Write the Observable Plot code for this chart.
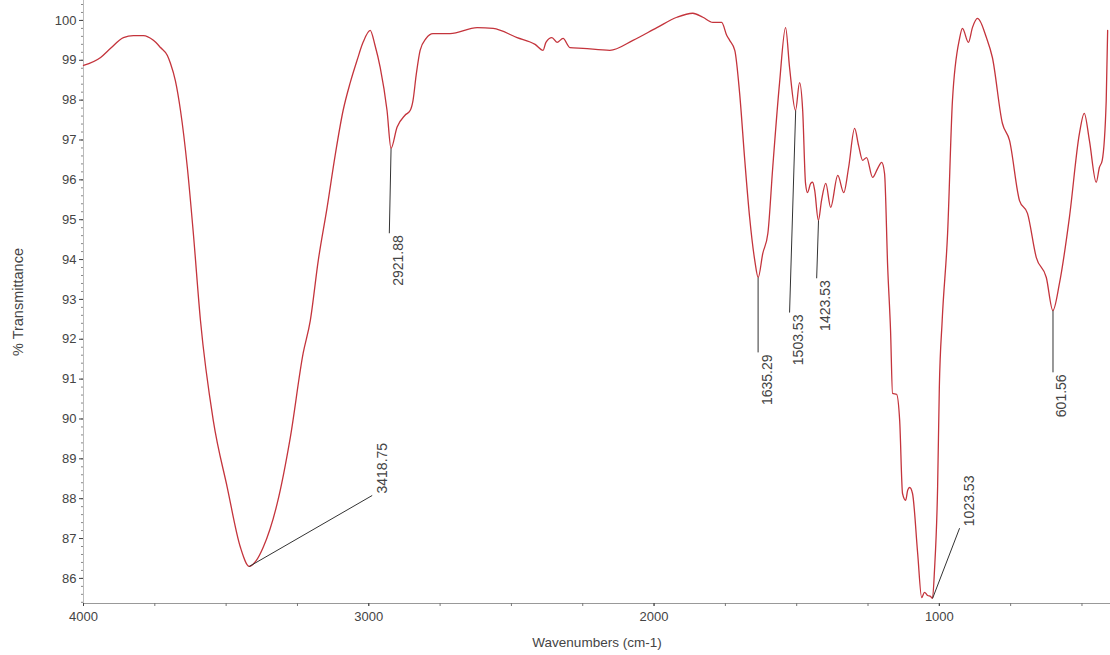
<!DOCTYPE html>
<html>
<head>
<meta charset="utf-8">
<script src="https://cdn.jsdelivr.net/npm/d3@7"></script>
<script src="https://cdn.jsdelivr.net/npm/@observablehq/plot@0.6"></script>
<style>
  html, body { margin: 0; padding: 0; background: #fff; }
  #chart svg { display: block; }
</style>
</head>
<body>
<div id="chart"></div>
<script>
// FT-IR spectrum: wavenumber (cm-1) against % transmittance
const wavenumber = [
  4000, 3940, 3905, 3860, 3825, 3790, 3755, 3730, 3706, 3695, 3678, 3660, 3636, 3615, 3590,
  3545, 3496, 3450, 3419, 3394, 3370, 3321, 3275, 3230, 3205, 3177, 3146, 3118, 3090, 3065,
  3041, 3020, 2995, 2978, 2960, 2936, 2922, 2901, 2873, 2855, 2845, 2834, 2820, 2799, 2775,
  2715, 2620, 2564, 2480, 2417, 2389, 2379, 2358, 2340, 2319, 2295, 2249, 2155, 2074, 1990,
  1920, 1864, 1829, 1794, 1763, 1745, 1735, 1717, 1700, 1682, 1665, 1647, 1635, 1619, 1601,
  1584, 1560, 1539, 1525, 1504, 1490, 1479, 1469, 1462, 1451, 1444, 1437, 1424, 1413, 1398,
  1381, 1356, 1335, 1318, 1297, 1283, 1269, 1255, 1234, 1216, 1202, 1192, 1181, 1171, 1164,
  1150, 1139, 1129, 1118, 1111, 1104, 1094, 1076, 1062, 1052, 1041, 1031, 1024, 1017, 1006,
  1000, 990, 971, 954, 929, 919, 898, 884, 866, 835, 814, 779, 754, 719, 691,
  660, 625, 602, 579, 544, 509, 492, 474, 450, 439, 429, 415, 410
];
const transmittance = [
  98.87, 99.07, 99.30, 99.57, 99.62, 99.62, 99.50, 99.32, 99.12, 98.92, 98.49, 97.74, 96.31, 94.66, 92.47,
  89.96, 88.28, 86.78, 86.30, 86.45, 86.78, 87.88, 89.54, 91.65, 92.47, 93.98, 95.31, 96.61, 97.74, 98.44,
  99.00, 99.45, 99.75, 99.37, 98.82, 97.74, 96.79, 97.32, 97.62, 97.74, 97.99, 98.62, 99.25, 99.55, 99.67,
  99.67, 99.82, 99.80, 99.57, 99.40, 99.25, 99.45, 99.57, 99.45, 99.55, 99.32, 99.30, 99.25, 99.50, 99.82,
  100.08, 100.18, 100.08, 99.95, 99.95, 99.62, 99.50, 99.25, 98.17, 96.49, 95.06, 93.98, 93.55, 94.15, 94.66,
  96.31, 98.44, 99.82, 98.82, 97.74, 98.44, 97.74, 95.91, 95.68, 95.91, 95.94, 95.74, 94.98, 95.48, 95.91,
  95.31, 96.11, 95.68, 96.31, 97.29, 96.86, 96.49, 96.56, 96.06, 96.29, 96.44, 96.16, 93.80, 92.22, 90.64,
  90.62, 89.96, 88.13, 87.96, 88.21, 88.28, 88.13, 86.63, 85.52, 85.65, 85.57, 85.55, 85.50, 86.20, 88.30,
  90.79, 92.47, 94.66, 97.99, 99.55, 99.80, 99.45, 99.82, 100.05, 99.57, 99.07, 97.42, 96.99, 95.48, 95.16,
  94.05, 93.55, 92.72, 93.40, 95.06, 97.16, 97.67, 96.99, 95.94, 96.31, 96.49, 97.99, 99.75
];

// Labelled absorption bands: band minimum and the end of its leader line
const peakWavenumber = [3418.75, 2921.88, 1635.29, 1503.53, 1423.53, 1023.53, 601.56];
const peakTransmittance = [86.30, 96.79, 93.55, 97.74, 94.98, 85.50, 92.72];
const leaderWavenumber = [2988, 2928, 1635.29, 1525, 1430, 929, 601.56];
const leaderTransmittance = [88.08, 94.66, 91.67, 92.67, 93.53, 87.26, 91.17];

const xTickLabels = [4000, 3000, 2000, 1000];
const xMinorTicks = d3.range(4000, 399, -250);
const yTickLabels = d3.range(86, 100.5, 1);
const yMinorTicks = d3.range(85.4, 100.45, 0.2);

const yDomain = [85.37, 100.5];

const spectrum = wavenumber.map((w, i) => ({w, t: transmittance[i]}));
const peaks = peakWavenumber.map((w, i) => ({
  w, t: peakTransmittance[i],
  lw: leaderWavenumber[i], lt: leaderTransmittance[i],
  label: w.toFixed(2),
  slanted: Math.abs(leaderWavenumber[i] - w) > 30
}));

const font = "'Liberation Sans', Arial, sans-serif";
const ink = "#444";

const chart = Plot.plot({
  width: 1110,
  height: 655,
  marginLeft: 83,
  marginRight: 0,
  marginTop: 0,
  marginBottom: 52,
  style: {fontFamily: font, fontSize: "13px", color: ink, background: "#fff"},
  x: {domain: [4000, 400]},
  y: {domain: yDomain},
  marks: [
    // axis lines
    Plot.ruleY([yDomain[0]], {stroke: "#999", strokeWidth: 1}),
    Plot.ruleX([4000], {stroke: "#bbb", strokeWidth: 1}),
    // minor ticks
    Plot.axisX({ticks: xMinorTicks, tickSize: 3, text: null, stroke: "#777"}),
    Plot.axisY({ticks: yMinorTicks, tickSize: 2, text: null, stroke: "#888"}),
    // major ticks and labels
    Plot.axisX({ticks: xTickLabels, tickSize: 3, tickPadding: 5, label: null, tickFormat: d => String(d), fill: ink}),
    Plot.axisY({ticks: yTickLabels, tickSize: 4, tickPadding: 3, label: null, tickFormat: d => String(d), fill: ink}),
    // axis titles
    Plot.text(["Wavenumbers (cm-1)"], {
      frameAnchor: "bottom", textAnchor: "middle", lineAnchor: "middle",
      dy: 39, text: d => d, fill: ink, fontSize: 13.5
    }),
    Plot.text(["% Transmittance"], {
      frameAnchor: "left", textAnchor: "middle", lineAnchor: "middle",
      dx: -65, rotate: -90, text: d => d, fill: ink, fontSize: 14.5
    }),
    // spectrum
    Plot.line(spectrum, {x: "w", y: "t", stroke: "#c4343c", strokeWidth: 1.3, curve: "monotone-x"}),
    // band leaders and labels
    Plot.link(peaks, {x1: "w", y1: "t", x2: "lw", y2: "lt", stroke: "#333", strokeWidth: 1}),
    Plot.text(peaks.filter(d => !d.slanted), {
      x: "lw", y: "lt", text: "label", rotate: -90, textAnchor: "end", lineAnchor: "middle",
      dx: 9, dy: 2, fill: ink, fontSize: 14
    }),
    Plot.text(peaks.filter(d => d.slanted), {
      x: "lw", y: "lt", text: "label", rotate: -90, textAnchor: "start", lineAnchor: "middle",
      dx: 10, dy: -2, fill: ink, fontSize: 14
    })
  ]
});

document.getElementById("chart").appendChild(chart);
</script>
</body>
</html>
